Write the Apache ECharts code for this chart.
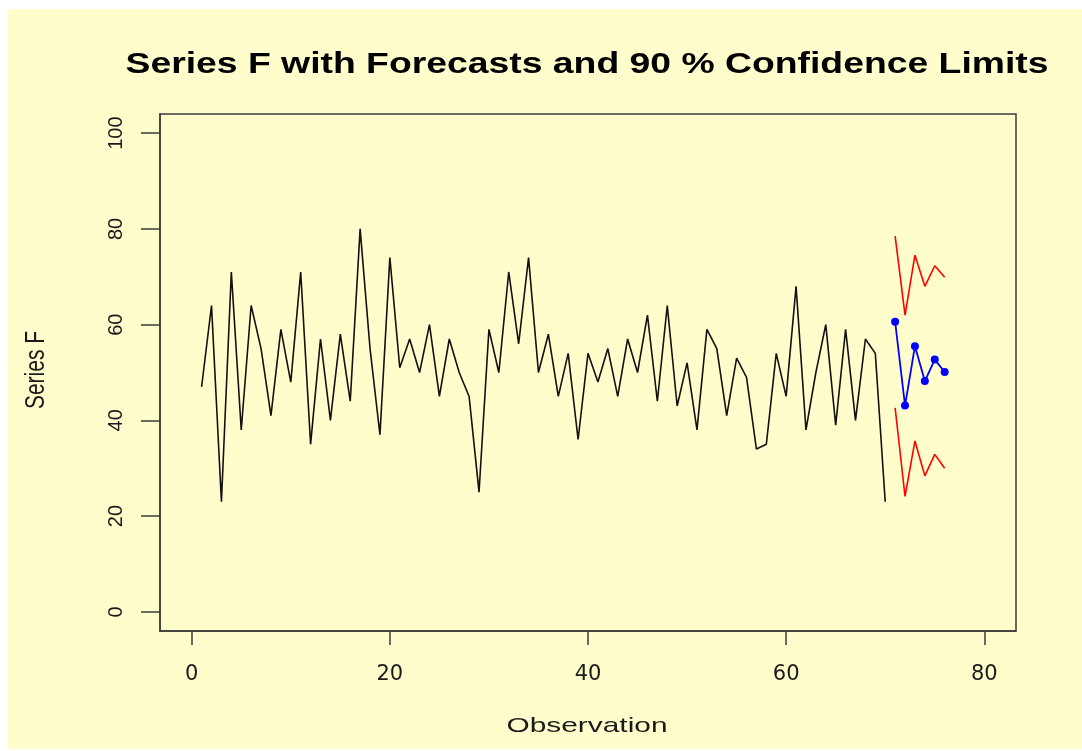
<!DOCTYPE html>
<html>
<head>
<meta charset="utf-8">
<script src="https://cdn.jsdelivr.net/npm/echarts@6/dist/echarts.min.js"></script>
<style>
html,body{margin:0;padding:0;background:#fff;}
#chart{width:1082px;height:751px;}
</style>
</head>
<body>
<div id="chart"></div>
<script>
// Series F observations 1..70
const seriesF = [47,64,23,71,38,64,55,41,59,48,71,35,57,40,58,44,80,55,37,74,
  51,57,50,60,45,57,50,45,25,59,50,71,56,74,50,58,45,54,36,54,
  48,55,45,57,50,62,44,64,43,52,38,59,55,41,53,49,34,35,54,45,
  68,38,50,60,39,59,40,57,54,23];
// Forecast horizon 71..76
const forecastX = [71,72,73,74,75,76];
const forecast = [60.6,43.1,55.5,48.2,52.7,50.1];
const upper90 = [78.5,62.0,74.5,68.0,72.3,69.9];
const lower90 = [42.6,24.1,35.7,28.4,32.9,30.0];
const xTicks = [0,20,40,60,80];
const yTicks = [0,20,40,60,80,100];

const obsData = seriesF.map((v,i)=>[i+1,v]);
const fcData = forecastX.map((x,i)=>[x,forecast[i]]);
const upData = forecastX.map((x,i)=>[x,upper90[i]]);
const loData = forecastX.map((x,i)=>[x,lower90[i]]);

function fitScale(text, font, target){
  const c=document.createElement('canvas').getContext('2d');
  c.font=font; return target / c.measureText(text).width;
}
const titleText='Series F with Forecasts and 90 % Confidence Limits';
const titleFont='bold 29px "Liberation Sans"';
const titleScale=fitScale(titleText,titleFont,923);
const xNameFont='21px "Liberation Sans"';
const xNameScale=fitScale('Observation',xNameFont,161);

const bg='#FFFDCC';
const chart=echarts.init(document.getElementById('chart'),null,{renderer:'canvas'});
chart.setOption({
  backgroundColor:bg,
  animation:false,
  grid:{left:160,right:66,top:114,bottom:120,show:true,borderColor:'#3a3a3a',borderWidth:1.5,backgroundColor:'transparent'},
  xAxis:{type:'value',min:-3.2,max:83.2,
    axisLine:{show:true,onZero:false,lineStyle:{color:'#3a3a3a',width:1.5}},
    axisTick:{show:true,inside:false,length:14,customValues:xTicks,lineStyle:{color:'#3a3a3a',width:1.5}},
    axisLabel:{customValues:xTicks,margin:33,fontSize:21,fontFamily:'"DejaVu Sans"',color:'#1a1a1a'},
    splitLine:{show:false}},
  yAxis:{type:'value',min:-4,max:104,
    axisLine:{show:true,onZero:false,lineStyle:{color:'#3a3a3a',width:1.5}},
    axisTick:{show:true,inside:false,length:19,customValues:yTicks,lineStyle:{color:'#3a3a3a',width:1.5}},
    axisLabel:{customValues:yTicks,rotate:90,margin:34,fontSize:20,fontFamily:'"Liberation Sans"',color:'#1a1a1a'},
    splitLine:{show:false}},
  graphic:[
    {type:'rect',shape:{x:0,y:0,width:1082,height:9},style:{fill:'#fff'},z:100,silent:true},
    {type:'rect',shape:{x:0,y:0,width:8,height:751},style:{fill:'#fff'},z:100,silent:true},
    {type:'rect',shape:{x:0,y:749,width:1082,height:2},style:{fill:'#fff'},z:100,silent:true},
    {type:'text',x:587,y:65,scaleX:titleScale,style:{text:titleText,font:titleFont,fill:'#000',align:'center',verticalAlign:'middle'},z:100},
    {type:'text',x:587,y:726,scaleX:xNameScale,style:{text:'Observation',font:xNameFont,fill:'#1a1a1a',align:'center',verticalAlign:'middle'},z:100},
    {type:'text',x:36,y:370,rotation:Math.PI/2,scaleY:1.3,style:{text:'Series F',font:'21px "Liberation Sans"',fill:'#1a1a1a',align:'center',verticalAlign:'middle'},z:100}
  ],
  series:[
    {type:'line',data:obsData,showSymbol:false,lineStyle:{color:'#111',width:1.6},z:3},
    {type:'line',data:upData,showSymbol:false,lineStyle:{color:'#FF0000',width:1.6},z:3},
    {type:'line',data:loData,showSymbol:false,lineStyle:{color:'#FF0000',width:1.6},z:3},
    {type:'line',data:fcData,symbol:'circle',symbolSize:8,itemStyle:{color:'#0000FF'},lineStyle:{color:'#0000FF',width:1.8},z:4}
  ]
});
</script>
</body>
</html>
